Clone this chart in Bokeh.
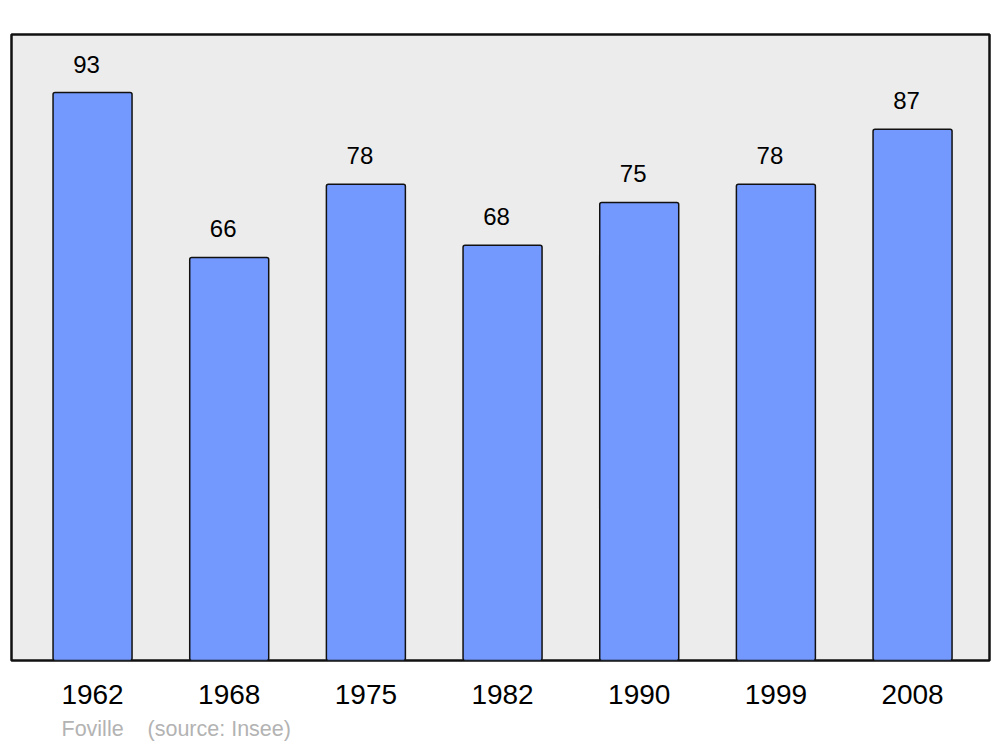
from bokeh.plotting import figure
from bokeh.models import ColumnDataSource, FixedTicker, Range1d, Title
from bokeh.embed import file_html
from bokeh.resources import INLINE
from bokeh.core.properties import value

years = ["1962", "1968", "1975", "1982", "1990", "1999", "2008"]
population = [93, 66, 78, 68, 75, 78, 87]
footer = "Foville\u00a0\u00a0\u00a0\u00a0(source: Insee)"

xs = list(range(len(years)))
src = ColumnDataSource(dict(x=xs, top=population, lab=[str(v) for v in population]))

p = figure(frame_width=978, frame_height=626, width=1000, height=747,
           output_backend="svg", toolbar_location=None,
           x_range=Range1d(-0.593, 6.563), y_range=Range1d(0, 102.5),
           min_border_left=11, min_border_right=11, min_border_top=34, min_border_bottom=87)
p.background_fill_color = "#ececec"
p.border_fill_color = "white"
p.outline_line_color = "#111111"
p.outline_line_width = 2.5
p.grid.visible = False
p.yaxis.visible = False

p.vbar(x="x", top="top", width=0.578, bottom=0, source=src,
       fill_color="#7399ff", line_color="#111111", line_width=1.5, border_radius=2)
p.text(x="x", y="top", text="lab", source=src, x_offset=-6, y_offset=-20,
       text_align="center", text_baseline="bottom",
       text_font=value("Liberation Sans"), text_font_size="24px", text_color="black")

ax = p.xaxis[0]
ax.ticker = FixedTicker(ticks=xs)
ax.major_label_overrides = {i: y for i, y in enumerate(years)}
ax.axis_line_color = None
ax.major_tick_line_color = None
ax.minor_tick_line_color = None
ax.major_label_text_font = "Liberation Sans"
ax.major_label_text_font_size = "28px"
ax.major_label_text_color = "black"
ax.major_label_standoff = 18

t = Title(text=footer, align="left", offset=50, text_font="Liberation Sans",
          text_font_size="21.5px", text_font_style="normal", text_color="#b3b3b3",
          standoff=17)
p.add_layout(t, "below")

open("out.html", "w").write(file_html(p, INLINE))
